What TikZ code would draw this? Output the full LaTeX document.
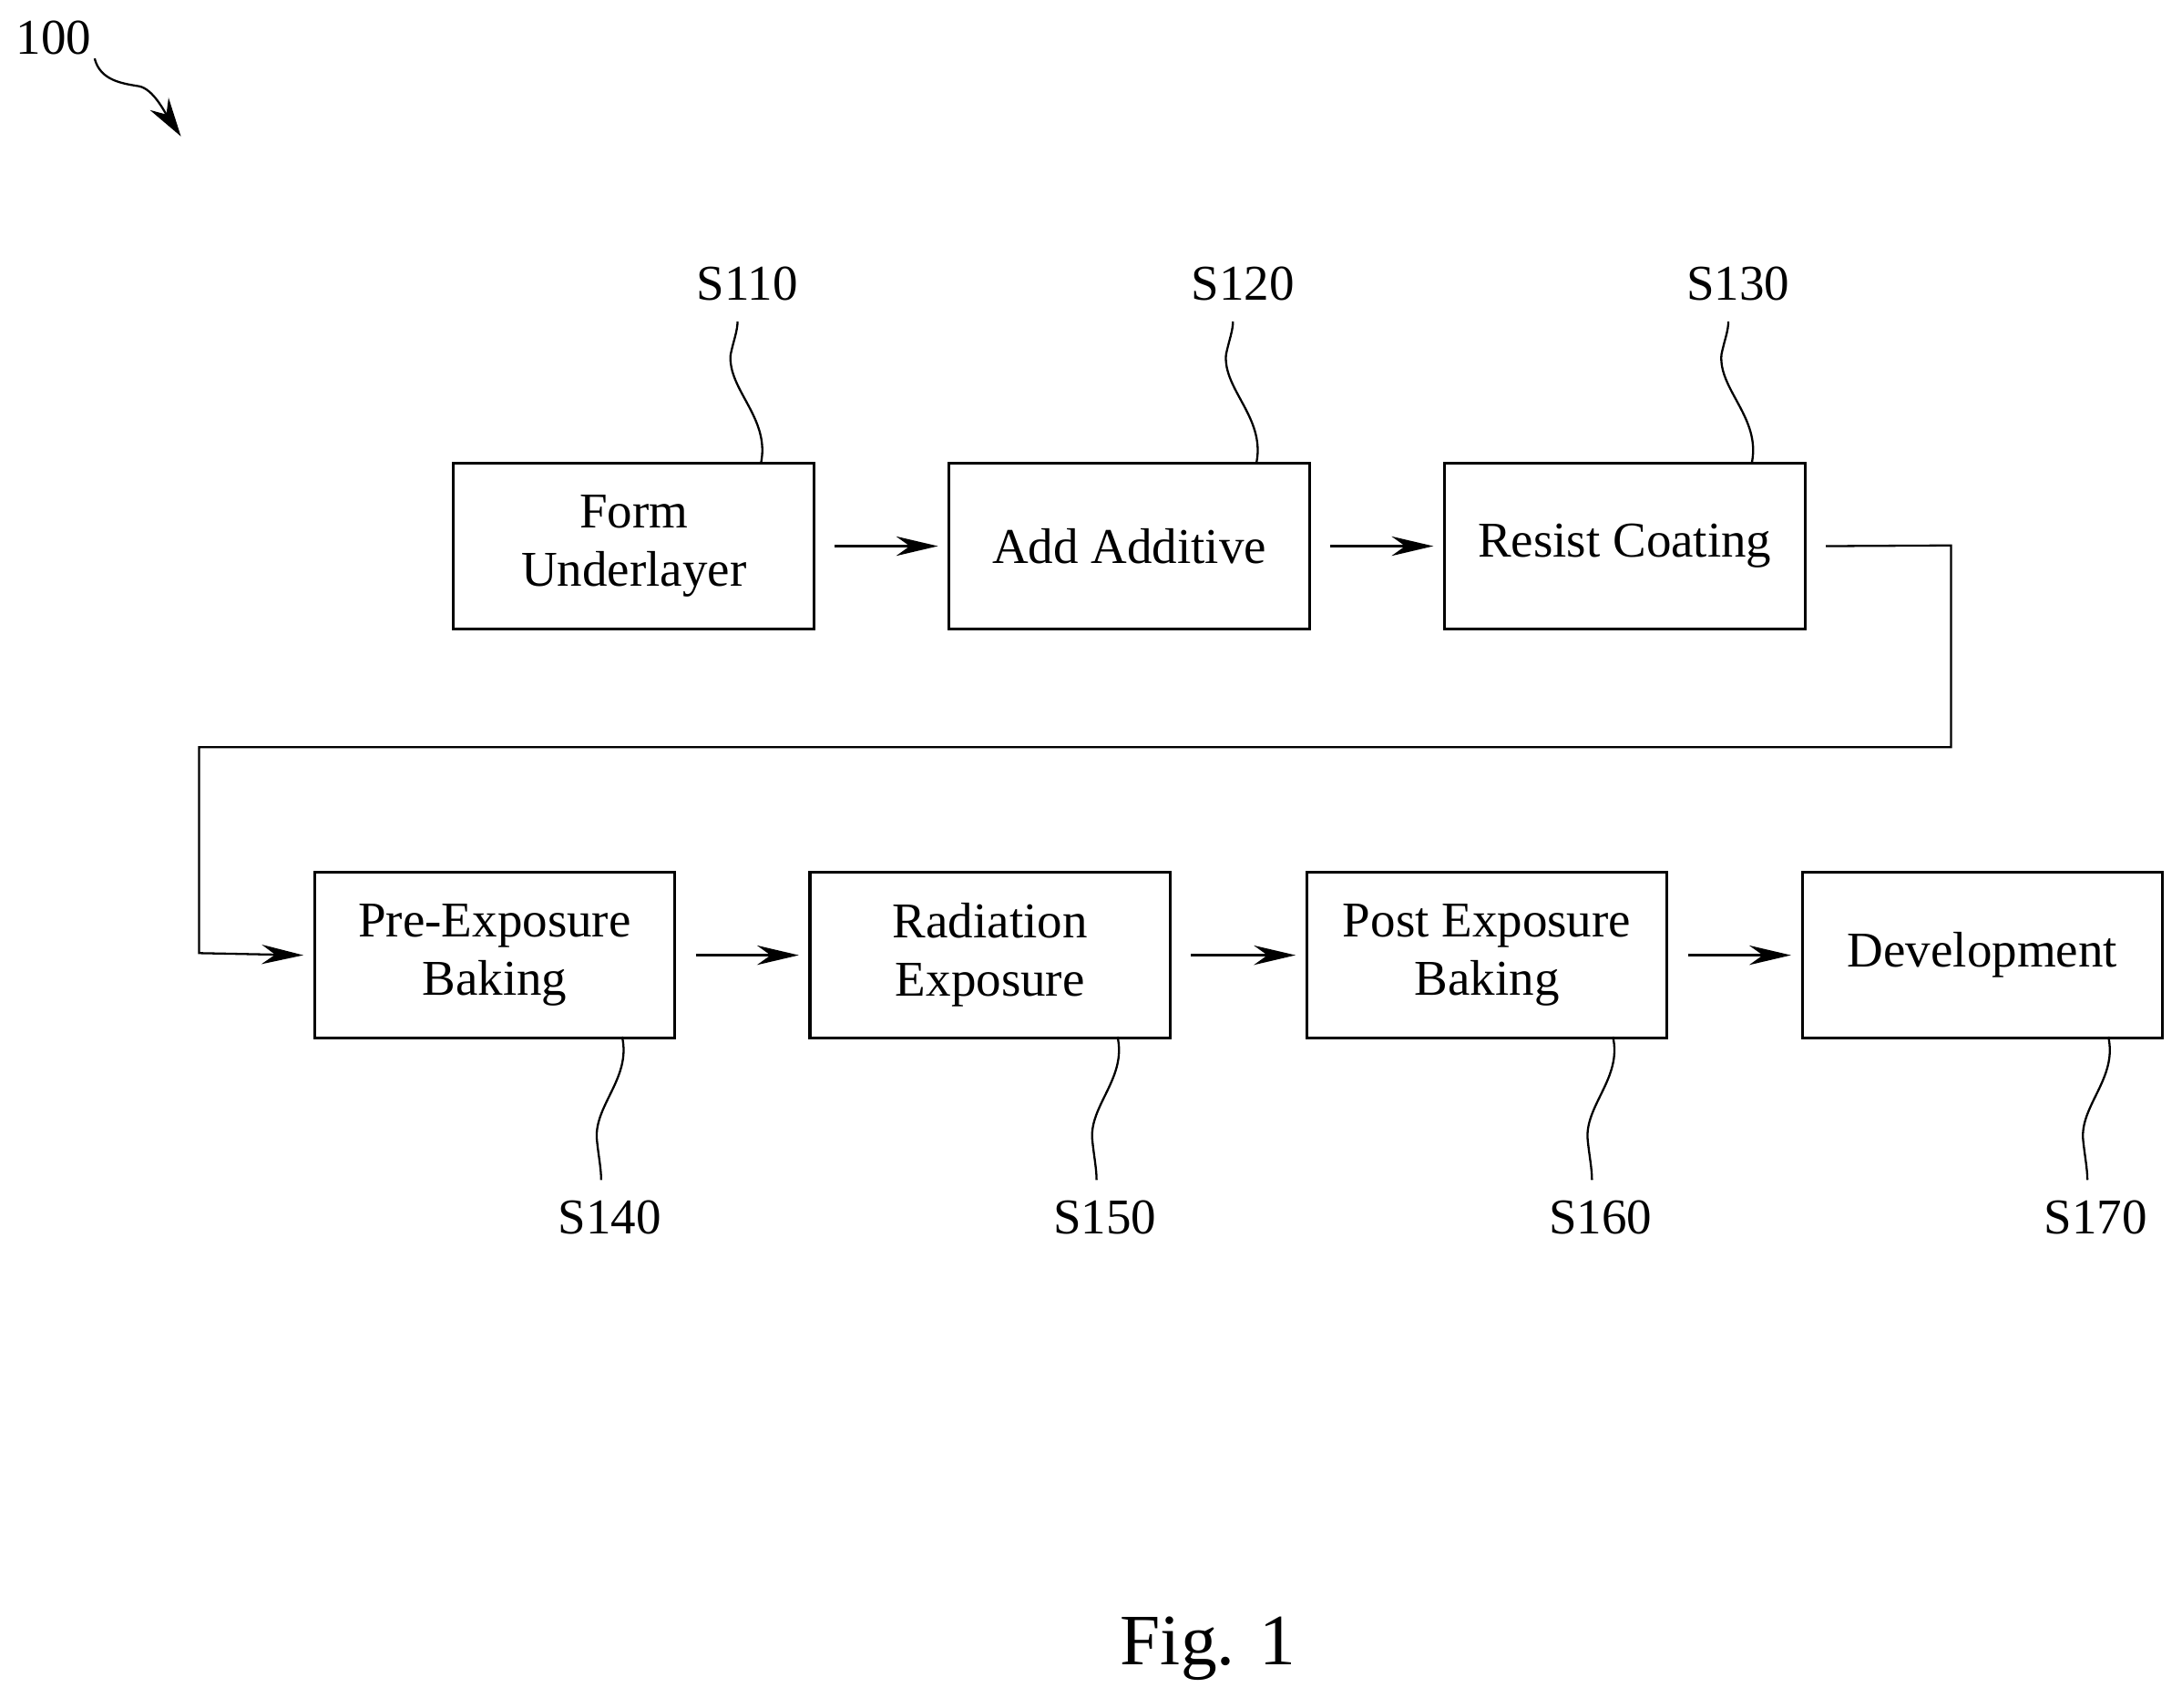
\documentclass[tikz,border=0pt]{standalone}
\usepackage{fontspec}
\setmainfont{Liberation Serif}
\usetikzlibrary{arrows.meta}
\begin{document}
\begin{tikzpicture}[x=1pt,y=-1pt,
  box/.style={draw,line width=2pt,minimum width=259pt,minimum height=119pt,anchor=north west,inner sep=0pt,align=center,font=\fontsize{36}{42}\selectfont},
  lab/.style={font=\fontsize{36}{40}\selectfont},
  arr/.style={line width=1.5pt,-{Stealth[length=30pt,width=14pt]}},
  sq/.style={line width=1.5pt}]
\useasboundingbox (0,0) rectangle (1568,1227);
\node[box] (b1) at (325,332) {Form\\Underlayer};
\node[box] (b2) at (681,332) {Add Additive};
\node[box] (b3) at (1037,332) {Resist Coating};
\node[box] (b4) at (225,626) {Pre-Exposure\\Baking};
\node[box] (b5) at (581,626) {Radiation\\Exposure};
\node[box] (b6) at (938,626) {Post Exposure\\Baking};
\node[box] (b7) at (1294,626) {Development};
\draw[arr] ([xshift=14pt]b1.east) -- ([xshift=-7pt]b2.west);
\draw[arr] ([xshift=14pt]b2.east) -- ([xshift=-7pt]b3.west);
\draw[arr] ([xshift=14pt]b4.east) -- ([xshift=-7pt]b5.west);
\draw[arr] ([xshift=14pt]b5.east) -- ([xshift=-7pt]b6.west);
\draw[arr] ([xshift=14pt]b6.east) -- ([xshift=-7pt]b7.west);
\coordinate (c1) at (1402,392);
\coordinate (c2) at (1402,537);
\coordinate (c3) at (143,537);
\coordinate (c4) at (143,685);
\draw[arr] ([xshift=14pt]b3.east) -- (c1) -- (c2) -- (c3) -- (c4) -- ([xshift=-7pt]b4.west);
% top labels
\foreach \n/\x/\t in {1/537/S110,2/893/S120,3/1249/S130}{
  \node[lab] (l\n) at (\x,204) {\t};
  \draw[sq] (\x+10,332) .. controls (\x+16,300) and (\x-14,280) .. (\x-12,255) .. controls (\x-10,245) and (\x-7,238) .. (\x-7,231);
}
\foreach \n/\x/\t in {4/438/S140,5/794/S150,6/1150/S160,7/1506/S170}{
  \node[lab] (l\n) at (\x,875) {\t};
  \draw[sq] (\x+9,745) .. controls (\x+16,775) and (\x-12,795) .. (\x-9,820) .. controls (\x-8,830) and (\x-6,840) .. (\x-6,848);
}
\node[lab,anchor=west] (n100) at (8,27) {100};
\draw[line width=1.5pt,-{Stealth[length=28pt,width=16pt]}] (68,42) .. controls (72,58) and (88,60) .. (100,62) .. controls (110,64) and (118,80) .. (130,98);
\node[font=\fontsize{52}{56}\selectfont] (fig) at (868,1185) {Fig. 1};
\end{tikzpicture}
\end{document}
